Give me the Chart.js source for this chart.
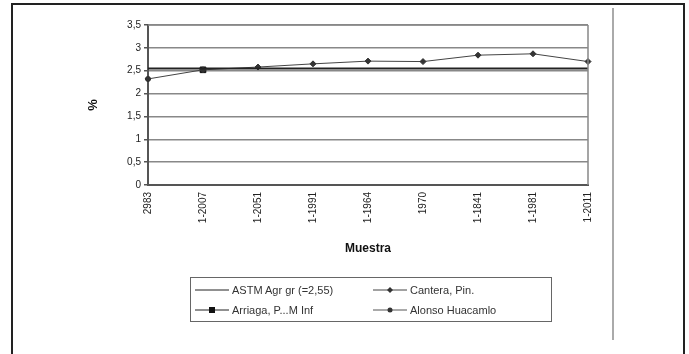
<!DOCTYPE html>
<html>
<head>
<meta charset="utf-8">
<script src="https://cdn.jsdelivr.net/npm/chart.js@4"></script>
<style>
  body { margin: 0; background: #fff; font-family: "Liberation Sans", Arial, sans-serif; }
  #wrap { position: relative; width: 689px; height: 354px; overflow: hidden; }
  #frame { position: absolute; left: 11px; top: 3px; width: 670px; height: 400px; border: 2px solid #222; }
  #vline { position: absolute; left: 612px; top: 8px; width: 2px; height: 332px; background: #aaa; }
  #chart { position: absolute; left: 0; top: 0; }
  #legend { position: absolute; left: 190px; top: 277px; width: 362px; height: 45px; border: 1px solid #666;
            display: grid; grid-template-columns: 178px 182px; grid-template-rows: 20px 20px; padding-top: 2px; box-sizing: border-box; }
  .item { display: flex; align-items: center; font-size: 11px; color: #333; white-space: nowrap; }
  .item canvas { margin: 0 3px 0 4px; }
</style>
</head>
<body>
<div id="wrap">
  <div id="frame"></div>
  <div id="vline"></div>
  <canvas id="chart" width="689" height="354"></canvas>
  <div id="legend"></div>
</div>
<script>
// sample names on the x axis
const muestras = ['2983', '1-2007', '1-2051', '1-1991', '1-1964', '1970', '1-1841', '1-1981', '1-2011'];
// ASTM reference line
const astm = [2.55, 2.55, 2.55, 2.55, 2.55, 2.55, 2.55, 2.55, 2.55];
// measured values
const cantera = [2.32, 2.52, 2.58, 2.65, 2.71, 2.70, 2.84, 2.87, 2.70];
const arriaga = [null, 2.52, null, null, null, null, null, null, null];
const alonso = [2.32, null, null, null, null, null, null, null, null];
const seriesNames = ['ASTM Agr gr (=2,55)', 'Cantera, Pin.', 'Arriaga, P...M Inf', 'Alonso Huacamlo'];

const dark = '#333';

const datasets = [
  { label: seriesNames[0], data: astm, borderColor: '#222', borderWidth: 2, pointRadius: 0 },
  { label: seriesNames[1], data: cantera, borderColor: '#444', borderWidth: 1, pointStyle: 'rectRot',
    pointRadius: 3, pointBackgroundColor: dark, pointBorderColor: dark },
  { label: seriesNames[2], data: arriaga, borderColor: '#222', borderWidth: 1, pointStyle: 'rect',
    pointRadius: 4, pointBackgroundColor: '#111', pointBorderColor: '#111' },
  { label: seriesNames[3], data: alonso, borderColor: '#555', borderWidth: 1, borderDash: [3, 2], pointStyle: 'circle',
    pointRadius: 2.5, pointBackgroundColor: dark, pointBorderColor: dark }
];

const isHalf = v => Math.abs(v * 2 - Math.round(v * 2)) < 1e-6;

const config = {
  type: 'line',
  data: { labels: muestras, datasets: datasets },
  options: {
    responsive: false,
    animation: false,
    layout: { padding: { left: 82, right: 101, top: 25, bottom: 94 } },
    plugins: { legend: { display: false }, tooltip: { enabled: false } },
    scales: {
      x: {
        offset: false,
        grid: { display: false, drawTicks: true, tickLength: 4, tickColor: '#555' },
        border: { color: '#555', width: 2 },
        ticks: { minRotation: 90, maxRotation: 90, color: '#222', font: { size: 10 }, padding: 3 },
        title: { display: true, text: 'Muestra', color: '#111', font: { size: 12, weight: 'bold' }, padding: { top: 8 } },
        afterFit: s => { s.height = 75; }
      },
      y: {
        min: 0, max: 3.5,
        ticks: {
          stepSize: 0.25, color: '#222', font: { size: 10 }, padding: 3,
          callback: v => (isHalf(v) ? String(v).replace('.', ',') : '')
        },
        grid: {
          color: c => (isHalf(c.tick.value) ? '#888' : '#c8c8c8'),
          lineWidth: c => (isHalf(c.tick.value) ? 1.5 : 1),
          tickLength: 4, tickColor: '#555'
        },
        border: { color: '#555', width: 2 },
        title: { display: true, text: '%', color: '#111', font: { size: 13, weight: 'bold' }, padding: { bottom: 20 } },
        afterFit: s => { s.width = 66; }
      }
    }
  },
  plugins: [{
    id: 'rightEdge',
    afterDraw(chart) {
      const a = chart.chartArea, ctx = chart.ctx;
      ctx.save();
      ctx.strokeStyle = '#888';
      ctx.lineWidth = 1.5;
      ctx.beginPath();
      ctx.moveTo(a.right, a.top);
      ctx.lineTo(a.right, a.bottom);
      ctx.moveTo(a.left, a.top);
      ctx.lineTo(a.right, a.top);
      ctx.stroke();
      ctx.restore();
    }
  }]
};

const chart = new Chart(document.getElementById('chart'), config);

// legend built from the datasets, two columns like the original
const legendEl = document.getElementById('legend');
datasets.forEach(ds => {
  const item = document.createElement('div');
  item.className = 'item';
  const c = document.createElement('canvas');
  c.width = 34; c.height = 10;
  const g = c.getContext('2d');
  g.strokeStyle = ds.borderColor;
  g.lineWidth = 1;
  g.beginPath(); g.moveTo(0, 5); g.lineTo(34, 5); g.stroke();
  if (ds.pointRadius) {
    g.fillStyle = ds.pointBackgroundColor;
    g.beginPath();
    if (ds.pointStyle === 'rect') g.rect(14, 2, 6, 6);
    else if (ds.pointStyle === 'rectRot') { g.moveTo(17, 2); g.lineTo(20, 5); g.lineTo(17, 8); g.lineTo(14, 5); }
    else g.arc(17, 5, 2.5, 0, Math.PI * 2);
    g.fill();
  }
  item.appendChild(c);
  item.appendChild(document.createTextNode(ds.label));
  legendEl.appendChild(item);
});
</script>
</body>
</html>
